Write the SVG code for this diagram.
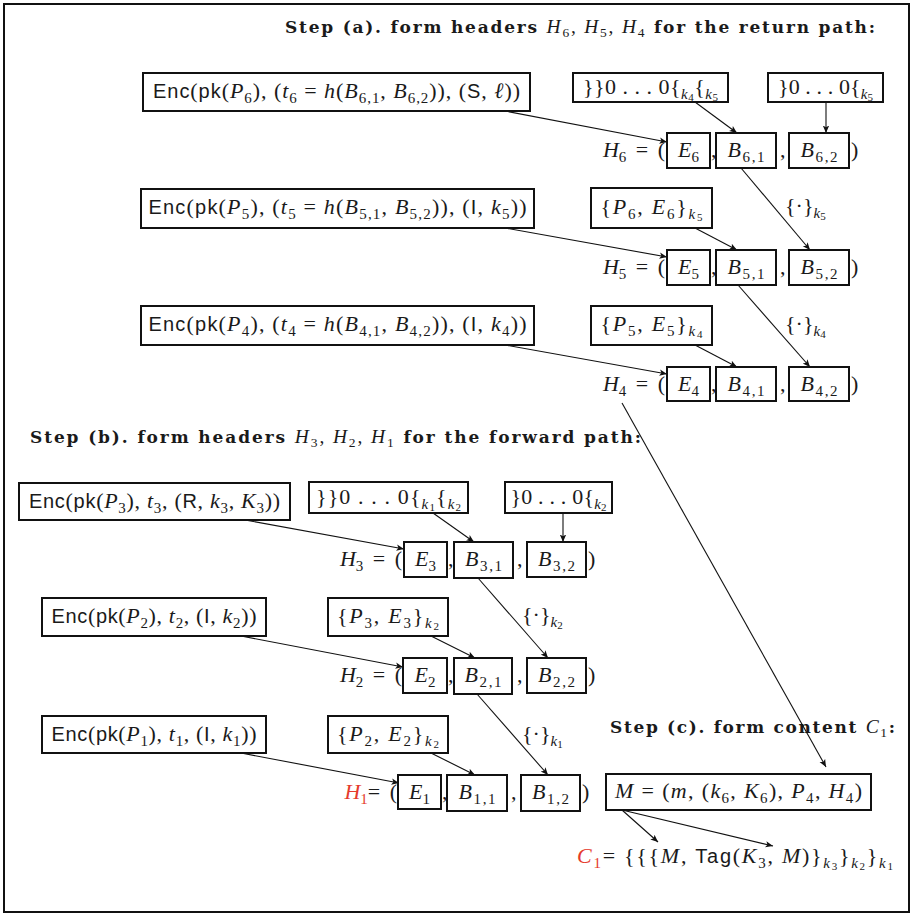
<svg xmlns="http://www.w3.org/2000/svg" width="914" height="916" viewBox="0 0 914 916">
<defs>
<style>
.t{font-family:"Liberation Serif","DejaVu Serif",serif;font-size:22px;fill:#1a1a1a}
.h{font-family:"Liberation Serif","DejaVu Serif",serif;font-size:19.5px;fill:#1a1a1a}
.h .sb{font-size:13.5px}
.i{font-style:italic}
.sf{font-family:"Liberation Sans","DejaVu Sans",sans-serif;font-size:20px}
.sb{font-size:15px}
.ss{font-size:11px}
.bd{font-family:"DejaVu Serif","Liberation Serif",serif;font-weight:bold;font-size:17px}
.red{fill:#e53a2c}
.lbl{word-spacing:4px}
.box{fill:#fff;stroke:#111;stroke-width:2}
.frame{fill:#fff;stroke:#111;stroke-width:2}
.ln{fill:none;stroke:#111;stroke-width:1.1;marker-end:url(#ah)}
</style>
<marker id="ah" markerWidth="8" markerHeight="8" viewBox="0 0 8 8" refX="7.5" refY="4" orient="auto" markerUnits="userSpaceOnUse">
<path d="M0,0.8 L7.5,4 L0,7.2 L1.8,4 Z" fill="#111"/>
</marker>
</defs>
<rect class="frame" x="4" y="4" width="905" height="908"/>

<g id="titles">
<text class="h" x="285" y="33" textLength="590" lengthAdjust="spacing"><tspan class="bd">Step (a). form headers </tspan><tspan class="i">H</tspan><tspan class="sb" dy="4">6</tspan><tspan dy="-4">, </tspan><tspan class="i">H</tspan><tspan class="sb" dy="4">5</tspan><tspan dy="-4">, </tspan><tspan class="i">H</tspan><tspan class="sb" dy="4">4</tspan><tspan class="bd" dy="-4"> for the return path:</tspan></text>
<text class="h" x="30" y="443" textLength="611" lengthAdjust="spacing"><tspan class="bd">Step (b). form headers </tspan><tspan class="i">H</tspan><tspan class="sb" dy="4">3</tspan><tspan dy="-4">, </tspan><tspan class="i">H</tspan><tspan class="sb" dy="4">2</tspan><tspan dy="-4">, </tspan><tspan class="i">H</tspan><tspan class="sb" dy="4">1</tspan><tspan class="bd" dy="-4"> for the forward path:</tspan></text>
<text class="h" x="610" y="733" textLength="285" lengthAdjust="spacing"><tspan class="bd">Step (c). form content </tspan><tspan class="i">C</tspan><tspan class="sb" dy="4">1</tspan><tspan class="bd" dy="-4">:</tspan></text>
</g>

<g id="connectors">
<line class="ln" x1="505" y1="111" x2="667" y2="142"/>
<line class="ln" x1="695" y1="102" x2="737" y2="133"/>
<line class="ln" x1="826" y1="102" x2="826" y2="133"/>
<line class="ln" x1="741" y1="168" x2="810" y2="250"/>
<line class="ln" x1="505" y1="228" x2="667" y2="257"/>
<line class="ln" x1="695" y1="228" x2="737" y2="250"/>
<line class="ln" x1="738" y1="285" x2="810" y2="367"/>
<line class="ln" x1="505" y1="345" x2="667" y2="374"/>
<line class="ln" x1="695" y1="345" x2="737" y2="367"/>
<line class="ln" x1="622" y1="403" x2="826" y2="767"/>
<line class="ln" x1="245" y1="520" x2="404" y2="549"/>
<line class="ln" x1="433" y1="513" x2="474" y2="542"/>
<line class="ln" x1="563" y1="513" x2="563" y2="542"/>
<line class="ln" x1="478" y1="578" x2="548" y2="658"/>
<line class="ln" x1="241" y1="636" x2="403" y2="667"/>
<line class="ln" x1="431" y1="636" x2="475" y2="658"/>
<line class="ln" x1="477" y1="694" x2="548" y2="775"/>
<line class="ln" x1="241" y1="753" x2="399" y2="783"/>
<line class="ln" x1="431" y1="753" x2="475" y2="775"/>
<line class="ln" x1="622" y1="810" x2="658" y2="842"/>
<line class="ln" x1="622" y1="810" x2="773" y2="846"/>
<text class="t" x="785" y="213"><tspan>{·}</tspan><tspan class="sb i" dy="5">k</tspan><tspan class="ss" dy="2">5</tspan></text>
<text class="t" x="785" y="331"><tspan>{·}</tspan><tspan class="sb i" dy="5">k</tspan><tspan class="ss" dy="2">4</tspan></text>
<text class="t" x="522" y="622"><tspan>{·}</tspan><tspan class="sb i" dy="5">k</tspan><tspan class="ss" dy="2">2</tspan></text>
<text class="t" x="522" y="741"><tspan>{·}</tspan><tspan class="sb i" dy="5">k</tspan><tspan class="ss" dy="2">1</tspan></text>
</g>

<!-- Step (a) -->
<g id="enc6"><rect class="box" x="143" y="73" width="387" height="38"/>
<text class="t" x="336.5" y="98" text-anchor="middle" textLength="367" lengthAdjust="spacing"><tspan class="sf">Enc</tspan>(<tspan class="sf">pk</tspan>(<tspan class="i">P</tspan><tspan class="sb" dy="5">6</tspan><tspan dy="-5">), (</tspan><tspan class="i">t</tspan><tspan class="sb" dy="5">6</tspan><tspan dy="-5"> = </tspan><tspan class="i">h</tspan>(<tspan class="i">B</tspan><tspan class="sb" dy="5">6,1</tspan><tspan dy="-5">, </tspan><tspan class="i">B</tspan><tspan class="sb" dy="5">6,2</tspan><tspan dy="-5">)), (</tspan><tspan class="sf">S</tspan>, <tspan class="i">ℓ</tspan>))</text></g>
<g id="pad6a"><rect class="box" x="573" y="73" width="155" height="29"/>
<text class="t" x="650.5" y="94" text-anchor="middle" textLength="135" lengthAdjust="spacing"><tspan>}}0 . . . 0{</tspan><tspan class="sb i" dy="5">k</tspan><tspan class="ss" dy="2">4</tspan><tspan dy="-7">{</tspan><tspan class="sb i" dy="5">k</tspan><tspan class="ss" dy="2">5</tspan></text></g>
<g id="pad6b"><rect class="box" x="768" y="73" width="115" height="29"/>
<text class="t" x="825.5" y="94" text-anchor="middle" textLength="95" lengthAdjust="spacing"><tspan>}0 . . . 0{</tspan><tspan class="sb i" dy="5">k</tspan><tspan class="ss" dy="2">5</tspan></text></g>
<g id="H6-label"><text class="t lbl" x="665" y="157" text-anchor="end"><tspan class="i">H</tspan><tspan class="sb" dy="5">6</tspan><tspan dy="-5"> = (</tspan></text>
<text class="t" x="711" y="157">,</text><text class="t" x="780" y="157">,</text><text class="t" x="851" y="157">)</text></g>
<g id="E6"><rect class="box" x="667" y="133" width="43" height="35"/><text class="t" x="688.5" y="157" text-anchor="middle"><tspan class="i">E</tspan><tspan class="sb" dy="5">6</tspan></text></g>
<g id="B61"><rect class="box" x="716" y="133" width="60" height="35"/><text class="t" x="746" y="157" text-anchor="middle" textLength="37" lengthAdjust="spacing"><tspan class="i">B</tspan><tspan class="sb" dy="5">6,1</tspan></text></g>
<g id="B62"><rect class="box" x="789" y="133" width="60" height="35"/><text class="t" x="819" y="157" text-anchor="middle" textLength="37" lengthAdjust="spacing"><tspan class="i">B</tspan><tspan class="sb" dy="5">6,2</tspan></text></g>

<g id="enc5"><rect class="box" x="141" y="189" width="393" height="39"/>
<text class="t" x="337.5" y="214" text-anchor="middle" textLength="378" lengthAdjust="spacing"><tspan class="sf">Enc</tspan>(<tspan class="sf">pk</tspan>(<tspan class="i">P</tspan><tspan class="sb" dy="5">5</tspan><tspan dy="-5">), (</tspan><tspan class="i">t</tspan><tspan class="sb" dy="5">5</tspan><tspan dy="-5"> = </tspan><tspan class="i">h</tspan>(<tspan class="i">B</tspan><tspan class="sb" dy="5">5,1</tspan><tspan dy="-5">, </tspan><tspan class="i">B</tspan><tspan class="sb" dy="5">5,2</tspan><tspan dy="-5">)), (</tspan><tspan class="sf">I</tspan>, <tspan class="i">k</tspan><tspan class="sb" dy="5">5</tspan><tspan dy="-5">))</tspan></text></g>
<g id="P6E6"><rect class="box" x="591" y="188" width="121" height="40"/>
<text class="t" x="651.5" y="214" text-anchor="middle" textLength="102" lengthAdjust="spacing"><tspan>{</tspan><tspan class="i">P</tspan><tspan class="sb" dy="5">6</tspan><tspan dy="-5">, </tspan><tspan class="i">E</tspan><tspan class="sb" dy="5">6</tspan><tspan dy="-5">}</tspan><tspan class="sb i" dy="5">k</tspan><tspan class="ss" dy="2">5</tspan></text></g>
<g id="H5-label"><text class="t lbl" x="665" y="274" text-anchor="end"><tspan class="i">H</tspan><tspan class="sb" dy="5">5</tspan><tspan dy="-5"> = (</tspan></text>
<text class="t" x="711" y="274">,</text><text class="t" x="780" y="274">,</text><text class="t" x="851" y="274">)</text></g>
<g id="E5"><rect class="box" x="667" y="250" width="43" height="35"/><text class="t" x="688.5" y="274" text-anchor="middle"><tspan class="i">E</tspan><tspan class="sb" dy="5">5</tspan></text></g>
<g id="B51"><rect class="box" x="716" y="250" width="60" height="35"/><text class="t" x="746" y="274" text-anchor="middle" textLength="37" lengthAdjust="spacing"><tspan class="i">B</tspan><tspan class="sb" dy="5">5,1</tspan></text></g>
<g id="B52"><rect class="box" x="789" y="250" width="60" height="35"/><text class="t" x="819" y="274" text-anchor="middle" textLength="37" lengthAdjust="spacing"><tspan class="i">B</tspan><tspan class="sb" dy="5">5,2</tspan></text></g>

<g id="enc4"><rect class="box" x="141" y="306" width="393" height="39"/>
<text class="t" x="337.5" y="331" text-anchor="middle" textLength="378" lengthAdjust="spacing"><tspan class="sf">Enc</tspan>(<tspan class="sf">pk</tspan>(<tspan class="i">P</tspan><tspan class="sb" dy="5">4</tspan><tspan dy="-5">), (</tspan><tspan class="i">t</tspan><tspan class="sb" dy="5">4</tspan><tspan dy="-5"> = </tspan><tspan class="i">h</tspan>(<tspan class="i">B</tspan><tspan class="sb" dy="5">4,1</tspan><tspan dy="-5">, </tspan><tspan class="i">B</tspan><tspan class="sb" dy="5">4,2</tspan><tspan dy="-5">)), (</tspan><tspan class="sf">I</tspan>, <tspan class="i">k</tspan><tspan class="sb" dy="5">4</tspan><tspan dy="-5">))</tspan></text></g>
<g id="P5E5"><rect class="box" x="591" y="306" width="121" height="39"/>
<text class="t" x="651.5" y="331" text-anchor="middle" textLength="102" lengthAdjust="spacing"><tspan>{</tspan><tspan class="i">P</tspan><tspan class="sb" dy="5">5</tspan><tspan dy="-5">, </tspan><tspan class="i">E</tspan><tspan class="sb" dy="5">5</tspan><tspan dy="-5">}</tspan><tspan class="sb i" dy="5">k</tspan><tspan class="ss" dy="2">4</tspan></text></g>
<g id="H4-label"><text class="t lbl" x="665" y="391" text-anchor="end"><tspan class="i">H</tspan><tspan class="sb" dy="5">4</tspan><tspan dy="-5"> = (</tspan></text>
<text class="t" x="711" y="391">,</text><text class="t" x="780" y="391">,</text><text class="t" x="851" y="391">)</text></g>
<g id="E4"><rect class="box" x="667" y="367" width="43" height="34"/><text class="t" x="688.5" y="391" text-anchor="middle"><tspan class="i">E</tspan><tspan class="sb" dy="5">4</tspan></text></g>
<g id="B41"><rect class="box" x="716" y="367" width="60" height="34"/><text class="t" x="746" y="391" text-anchor="middle" textLength="37" lengthAdjust="spacing"><tspan class="i">B</tspan><tspan class="sb" dy="5">4,1</tspan></text></g>
<g id="B42"><rect class="box" x="789" y="367" width="60" height="34"/><text class="t" x="819" y="391" text-anchor="middle" textLength="37" lengthAdjust="spacing"><tspan class="i">B</tspan><tspan class="sb" dy="5">4,2</tspan></text></g>

<!-- Step (b) -->
<g id="enc3"><rect class="box" x="19" y="483" width="271" height="37"/>
<text class="t" x="154.5" y="508" text-anchor="middle" textLength="251" lengthAdjust="spacing"><tspan class="sf">Enc</tspan>(<tspan class="sf">pk</tspan>(<tspan class="i">P</tspan><tspan class="sb" dy="5">3</tspan><tspan dy="-5">), </tspan><tspan class="i">t</tspan><tspan class="sb" dy="5">3</tspan><tspan dy="-5">, (</tspan><tspan class="sf">R</tspan>, <tspan class="i">k</tspan><tspan class="sb" dy="5">3</tspan><tspan dy="-5">, </tspan><tspan class="i">K</tspan><tspan class="sb" dy="5">3</tspan><tspan dy="-5">))</tspan></text></g>
<g id="pad3a"><rect class="box" x="309" y="482" width="159" height="31"/>
<text class="t" x="388.5" y="504" text-anchor="middle" textLength="145" lengthAdjust="spacing"><tspan>}}0 . . . 0{</tspan><tspan class="sb i" dy="5">k</tspan><tspan class="ss" dy="2">1</tspan><tspan dy="-7">{</tspan><tspan class="sb i" dy="5">k</tspan><tspan class="ss" dy="2">2</tspan></text></g>
<g id="pad3b"><rect class="box" x="505" y="482" width="107" height="31"/>
<text class="t" x="558.5" y="504" text-anchor="middle" textLength="96" lengthAdjust="spacing"><tspan>}0 . . . 0{</tspan><tspan class="sb i" dy="5">k</tspan><tspan class="ss" dy="2">2</tspan></text></g>
<g id="H3-label"><text class="t lbl" x="402" y="566" text-anchor="end"><tspan class="i">H</tspan><tspan class="sb" dy="5">3</tspan><tspan dy="-5"> = (</tspan></text>
<text class="t" x="448" y="566">,</text><text class="t" x="517" y="566">,</text><text class="t" x="588" y="566">)</text></g>
<g id="E3"><rect class="box" x="404" y="542" width="43" height="35"/><text class="t" x="425.5" y="566" text-anchor="middle"><tspan class="i">E</tspan><tspan class="sb" dy="5">3</tspan></text></g>
<g id="B31"><rect class="box" x="454" y="542" width="59" height="36"/><text class="t" x="483.5" y="566" text-anchor="middle" textLength="37" lengthAdjust="spacing"><tspan class="i">B</tspan><tspan class="sb" dy="5">3,1</tspan></text></g>
<g id="B32"><rect class="box" x="527" y="542" width="59" height="35"/><text class="t" x="556.5" y="566" text-anchor="middle" textLength="37" lengthAdjust="spacing"><tspan class="i">B</tspan><tspan class="sb" dy="5">3,2</tspan></text></g>

<g id="enc2"><rect class="box" x="42" y="598" width="224" height="38"/>
<text class="t" x="154" y="623" text-anchor="middle" textLength="205" lengthAdjust="spacing"><tspan class="sf">Enc</tspan>(<tspan class="sf">pk</tspan>(<tspan class="i">P</tspan><tspan class="sb" dy="5">2</tspan><tspan dy="-5">), </tspan><tspan class="i">t</tspan><tspan class="sb" dy="5">2</tspan><tspan dy="-5">, (</tspan><tspan class="sf">I</tspan>, <tspan class="i">k</tspan><tspan class="sb" dy="5">2</tspan><tspan dy="-5">))</tspan></text></g>
<g id="P3E3"><rect class="box" x="328" y="598" width="120" height="38"/>
<text class="t" x="388" y="623" text-anchor="middle" textLength="102" lengthAdjust="spacing"><tspan>{</tspan><tspan class="i">P</tspan><tspan class="sb" dy="5">3</tspan><tspan dy="-5">, </tspan><tspan class="i">E</tspan><tspan class="sb" dy="5">3</tspan><tspan dy="-5">}</tspan><tspan class="sb i" dy="5">k</tspan><tspan class="ss" dy="2">2</tspan></text></g>
<g id="H2-label"><text class="t lbl" x="402" y="682" text-anchor="end"><tspan class="i">H</tspan><tspan class="sb" dy="5">2</tspan><tspan dy="-5"> = (</tspan></text>
<text class="t" x="448" y="682">,</text><text class="t" x="517" y="682">,</text><text class="t" x="588" y="682">)</text></g>
<g id="E2"><rect class="box" x="403" y="658" width="44" height="35"/><text class="t" x="425" y="682" text-anchor="middle"><tspan class="i">E</tspan><tspan class="sb" dy="5">2</tspan></text></g>
<g id="B21"><rect class="box" x="454" y="658" width="58" height="36"/><text class="t" x="483" y="682" text-anchor="middle" textLength="37" lengthAdjust="spacing"><tspan class="i">B</tspan><tspan class="sb" dy="5">2,1</tspan></text></g>
<g id="B22"><rect class="box" x="527" y="658" width="59" height="35"/><text class="t" x="556.5" y="682" text-anchor="middle" textLength="37" lengthAdjust="spacing"><tspan class="i">B</tspan><tspan class="sb" dy="5">2,2</tspan></text></g>

<g id="enc1"><rect class="box" x="42" y="716" width="224" height="37"/>
<text class="t" x="154" y="741" text-anchor="middle" textLength="205" lengthAdjust="spacing"><tspan class="sf">Enc</tspan>(<tspan class="sf">pk</tspan>(<tspan class="i">P</tspan><tspan class="sb" dy="5">1</tspan><tspan dy="-5">), </tspan><tspan class="i">t</tspan><tspan class="sb" dy="5">1</tspan><tspan dy="-5">, (</tspan><tspan class="sf">I</tspan>, <tspan class="i">k</tspan><tspan class="sb" dy="5">1</tspan><tspan dy="-5">))</tspan></text></g>
<g id="P2E2"><rect class="box" x="328" y="716" width="120" height="37"/>
<text class="t" x="388" y="741" text-anchor="middle" textLength="102" lengthAdjust="spacing"><tspan>{</tspan><tspan class="i">P</tspan><tspan class="sb" dy="5">2</tspan><tspan dy="-5">, </tspan><tspan class="i">E</tspan><tspan class="sb" dy="5">2</tspan><tspan dy="-5">}</tspan><tspan class="sb i" dy="5">k</tspan><tspan class="ss" dy="2">2</tspan></text></g>
<g id="H1-label"><text class="t lbl" x="397" y="799" text-anchor="end"><tspan class="i red">H</tspan><tspan class="sb red" dy="5">1</tspan><tspan dy="-5">= (</tspan></text>
<text class="t" x="442" y="799">,</text><text class="t" x="511" y="799">,</text><text class="t" x="582" y="799">)</text></g>
<g id="E1"><rect class="box" x="398" y="775" width="43" height="34"/><text class="t" x="419.5" y="799" text-anchor="middle"><tspan class="i">E</tspan><tspan class="sb" dy="5">1</tspan></text></g>
<g id="B11"><rect class="box" x="447" y="775" width="60" height="36"/><text class="t" x="477" y="799" text-anchor="middle" textLength="37" lengthAdjust="spacing"><tspan class="i">B</tspan><tspan class="sb" dy="5">1,1</tspan></text></g>
<g id="B12"><rect class="box" x="521" y="775" width="59" height="36"/><text class="t" x="550.5" y="799" text-anchor="middle" textLength="37" lengthAdjust="spacing"><tspan class="i">B</tspan><tspan class="sb" dy="5">1,2</tspan></text></g>

<!-- Step (c) -->
<g id="M"><rect class="box" x="606" y="774" width="265" height="36"/>
<text class="t" x="738.5" y="798" text-anchor="middle" textLength="247" lengthAdjust="spacing"><tspan class="i">M</tspan> = (<tspan class="i">m</tspan>, (<tspan class="i">k</tspan><tspan class="sb" dy="5">6</tspan><tspan dy="-5">, </tspan><tspan class="i">K</tspan><tspan class="sb" dy="5">6</tspan><tspan dy="-5">), </tspan><tspan class="i">P</tspan><tspan class="sb" dy="5">4</tspan><tspan dy="-5">, </tspan><tspan class="i">H</tspan><tspan class="sb" dy="5">4</tspan><tspan dy="-5">)</tspan></text></g>
<g id="C1"><text class="t" x="577" y="863" textLength="316" lengthAdjust="spacing"><tspan class="i red">C</tspan><tspan class="sb red" dy="5">1</tspan><tspan dy="-5">= {{{</tspan><tspan class="i">M</tspan>, <tspan class="sf">Tag</tspan>(<tspan class="i">K</tspan><tspan class="sb" dy="5">3</tspan><tspan dy="-5">, </tspan><tspan class="i">M</tspan>)}<tspan class="sb i" dy="5">k</tspan><tspan class="ss" dy="2">3</tspan><tspan dy="-7">}</tspan><tspan class="sb i" dy="5">k</tspan><tspan class="ss" dy="2">2</tspan><tspan dy="-7">}</tspan><tspan class="sb i" dy="5">k</tspan><tspan class="ss" dy="2">1</tspan></text></g>
</svg>
